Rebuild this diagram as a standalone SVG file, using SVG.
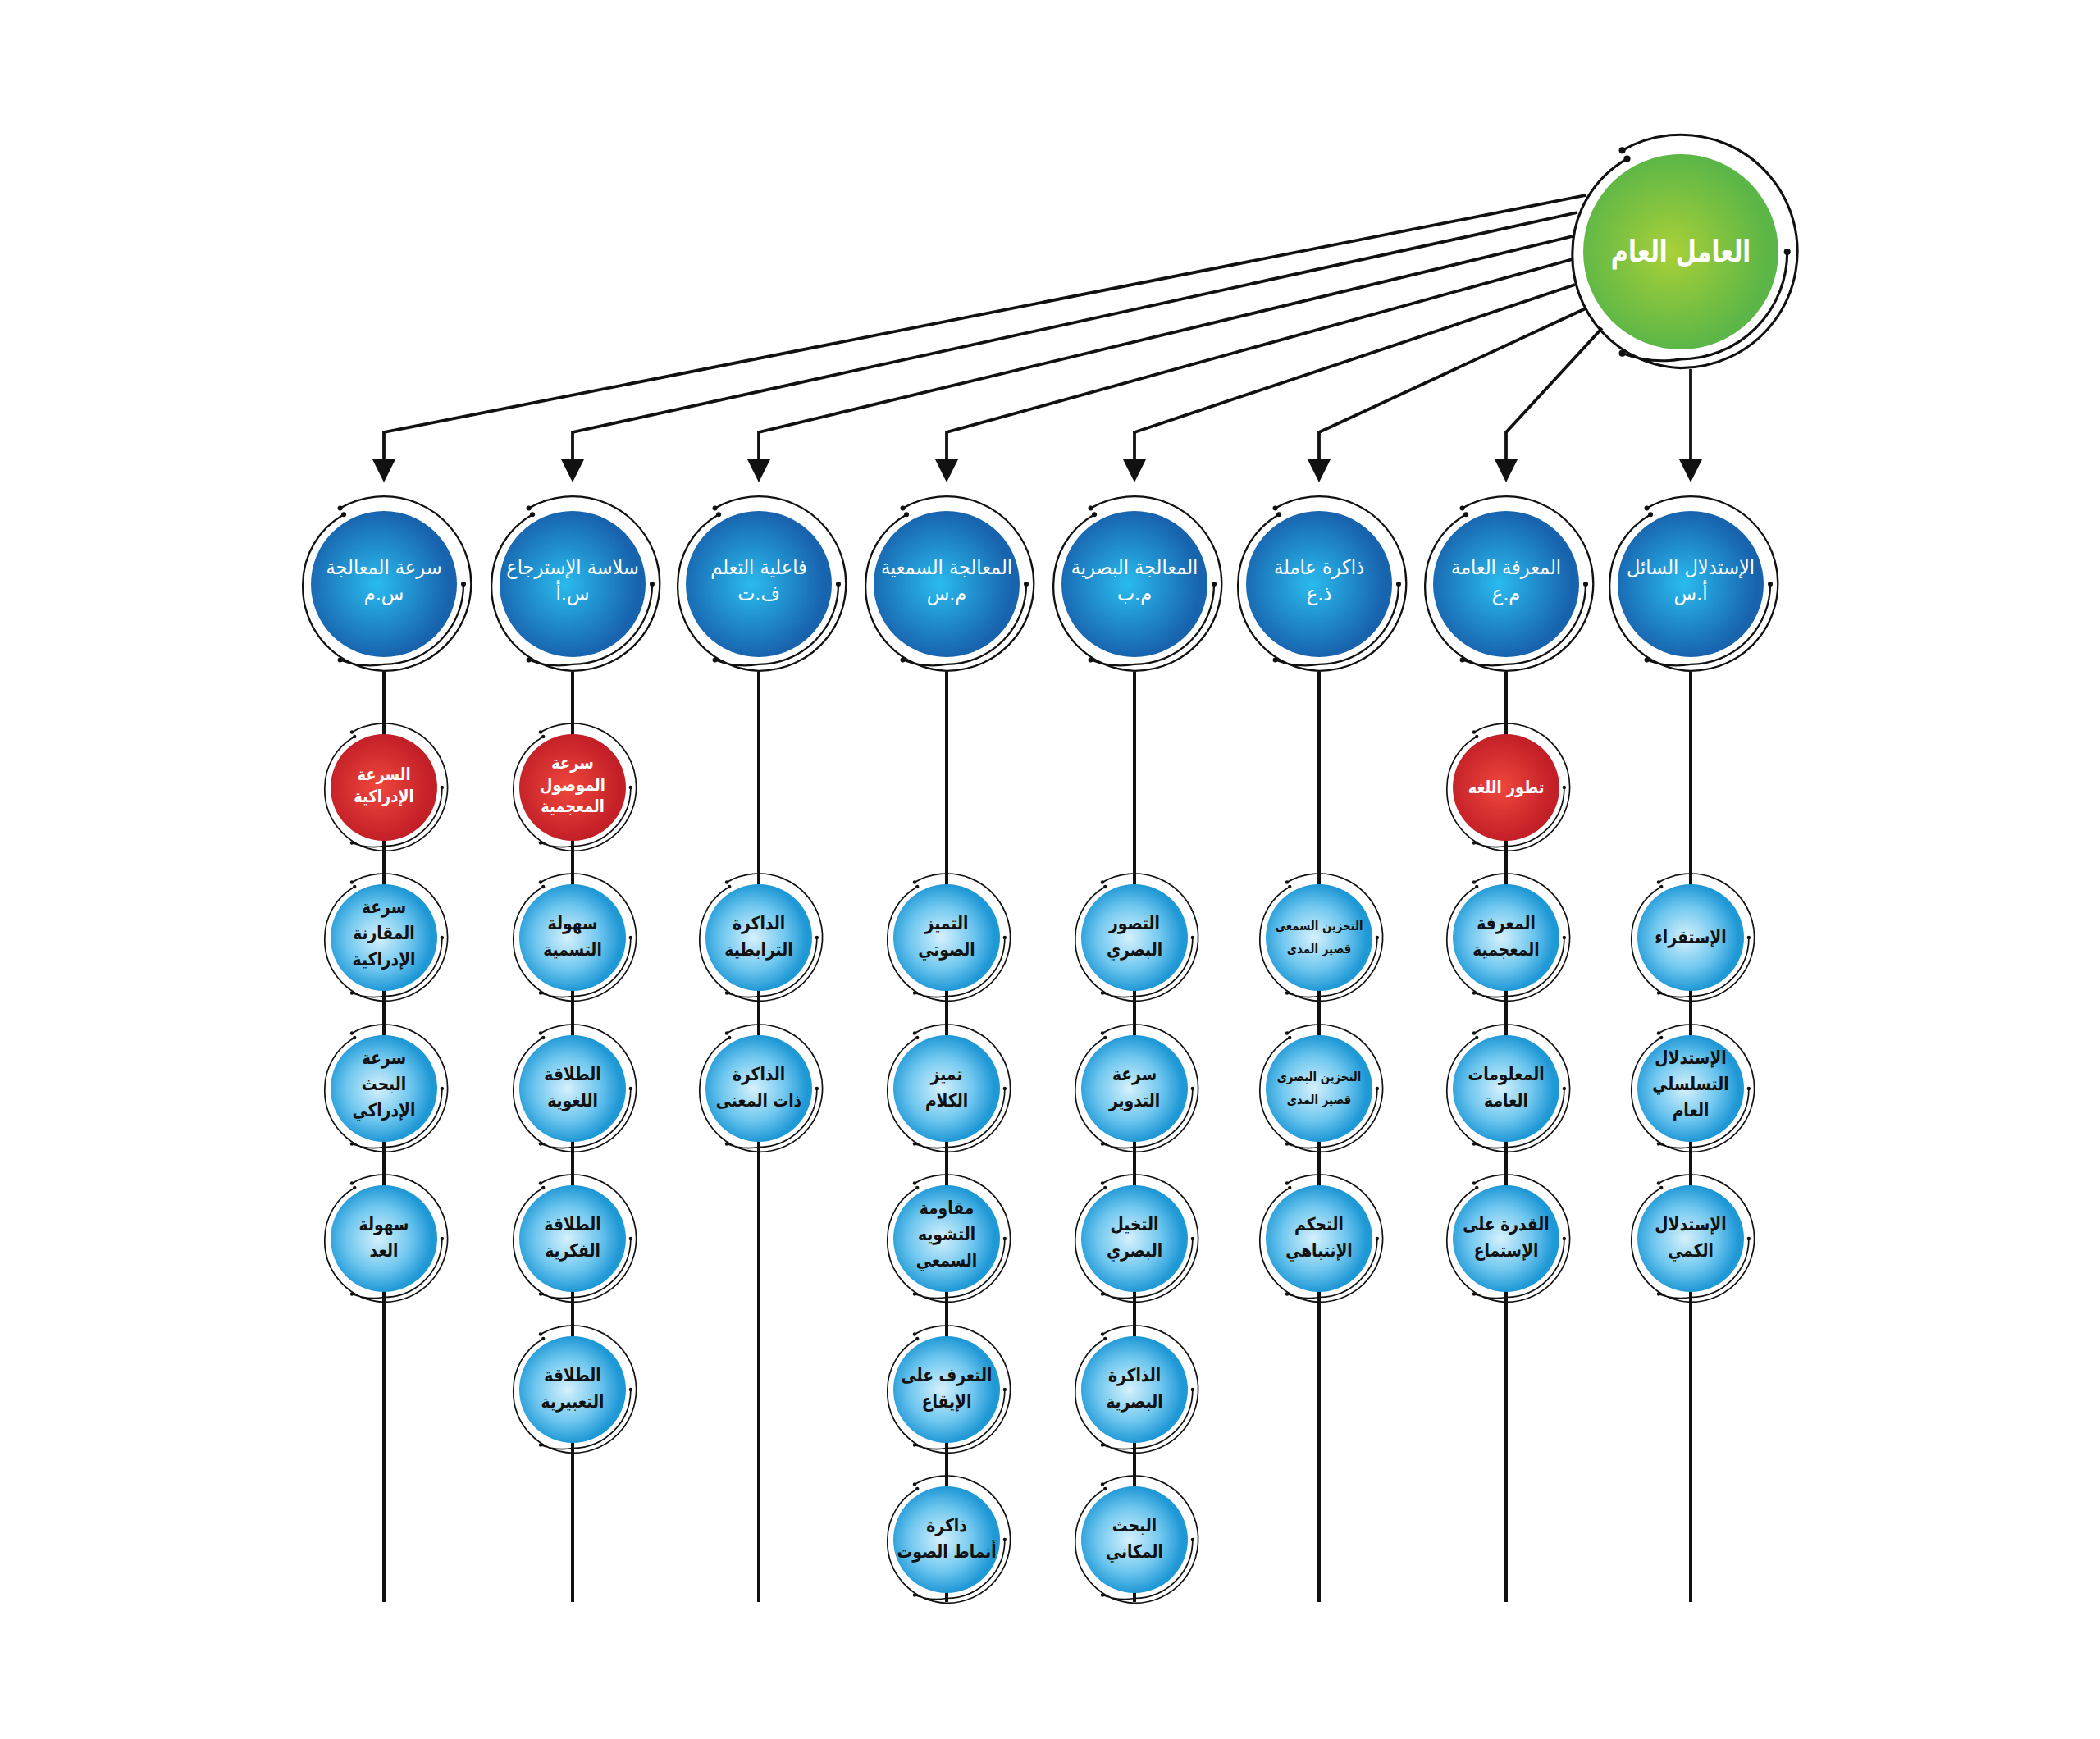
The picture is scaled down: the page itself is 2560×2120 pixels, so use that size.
<svg xmlns="http://www.w3.org/2000/svg" width="2560" height="2120" viewBox="0 0 2560 2120">
<style>
.tg{font-family:"DejaVu Sans","Noto Sans",sans-serif;font-weight:bold;font-size:37px;fill:#fff;text-anchor:middle;transform:scale(0.78,1)}
.t2{font-family:"DejaVu Sans","Noto Sans",sans-serif;font-size:25px;fill:#fff;text-anchor:middle;transform:scale(0.9,1)}
.tr{font-family:"DejaVu Sans","Noto Sans",sans-serif;font-weight:bold;font-size:21px;fill:#fff;text-anchor:middle;transform:scale(0.85,1)}
.tl{font-family:"DejaVu Sans","Noto Sans",sans-serif;font-weight:bold;font-size:22px;fill:#111;text-anchor:middle;transform:scale(0.85,1)}
.ts{font-family:"DejaVu Sans","Noto Sans",sans-serif;font-weight:bold;font-size:16px;fill:#111;text-anchor:middle;transform:scale(0.83,1)}
</style>
<defs>
<radialGradient id="gGreen" cx="0.45" cy="0.5" r="0.5">
<stop offset="0" stop-color="#a9d038"/><stop offset="1" stop-color="#5bb647"/>
</radialGradient>
<radialGradient id="gBlue" cx="0.45" cy="0.5" r="0.5">
<stop offset="0" stop-color="#2abbee"/><stop offset="1" stop-color="#1863ae"/>
</radialGradient>
<radialGradient id="gRed" cx="0.45" cy="0.5" r="0.5">
<stop offset="0" stop-color="#f0473d"/><stop offset="1" stop-color="#c21f27"/>
</radialGradient>
<radialGradient id="gLeaf" cx="0.45" cy="0.5" r="0.5">
<stop offset="0" stop-color="#d6f1fc"/><stop offset="0.6" stop-color="#6fc7ef"/><stop offset="1" stop-color="#1f98d6"/>
</radialGradient>
<g id="ring">
<path d="M-60 -103.9 A119.5 119.5 0 1 1 0 119 A115 115 0 0 1 -111 0 A110.5 110.5 0 0 1 -55 -95.3 M109 0 A109.5 109.5 0 0 1 0 110 A115 115 0 0 1 -60 103.9" fill="none" stroke="#111" stroke-width="2.6"/>
<circle cx="-60" cy="-103.9" r="3.4" fill="#111"/>
<circle cx="-55" cy="-95.3" r="3.4" fill="#111"/>
<circle cx="109" cy="0" r="3.4" fill="#111"/>
<circle cx="-60" cy="103.9" r="3.4" fill="#111"/>
</g>
<marker id="arr" markerUnits="userSpaceOnUse" markerWidth="28" markerHeight="28" viewBox="0 0 28 28" refX="0" refY="14" orient="auto">
<path d="M0 0 L28 14 L0 28 z" fill="#111"/>
</marker>
</defs>
<rect width="2560" height="2120" fill="#fff"/>

<g id="connectors" fill="none" stroke="#111">
<g stroke-width="3.8">
<path d="M1933 238 L468 527 L468 560" marker-end="url(#arr)"/>
<path d="M1923 259 L698 527 L698 560" marker-end="url(#arr)"/>
<path d="M1917 288 L925 527 L925 560" marker-end="url(#arr)"/>
<path d="M1917 316 L1154 527 L1154 560" marker-end="url(#arr)"/>
<path d="M1920 347 L1383 527 L1383 560" marker-end="url(#arr)"/>
<path d="M1933 376 L1608 527 L1608 560" marker-end="url(#arr)"/>
<path d="M1953 400 L1836 527 L1836 560" marker-end="url(#arr)"/>
<path d="M2061 450 L2061 560" marker-end="url(#arr)"/>
</g>
<g stroke-width="4">
<line x1="468" y1="819" x2="468" y2="1953"/>
<line x1="698" y1="819" x2="698" y2="1953"/>
<line x1="925" y1="819" x2="925" y2="1953"/>
<line x1="1154" y1="819" x2="1154" y2="1953"/>
<line x1="1383" y1="819" x2="1383" y2="1953"/>
<line x1="1608" y1="819" x2="1608" y2="1953"/>
<line x1="1836" y1="819" x2="1836" y2="1953"/>
<line x1="2061" y1="819" x2="2061" y2="1953"/>
</g>
</g>

<g id="node-general" transform="translate(2049,307)">
<circle r="119" fill="url(#gGreen)"/>
<use href="#ring" transform="scale(1.19)"/>
<text class="tg" y="12">العامل العام</text>
</g>

<g id="node-gs" transform="translate(468,712)"><circle r="89" fill="url(#gBlue)"/><use href="#ring" transform="scale(0.89)"/><text class="t2" y="-12">سرعة المعالجة</text><text class="t2" y="20">س.م</text></g>
<g id="node-gr" transform="translate(698,712)"><circle r="89" fill="url(#gBlue)"/><use href="#ring" transform="scale(0.89)"/><text class="t2" y="-12">سلاسة الإسترجاع</text><text class="t2" y="20">س.أ</text></g>
<g id="node-gl" transform="translate(925,712)"><circle r="89" fill="url(#gBlue)"/><use href="#ring" transform="scale(0.89)"/><text class="t2" y="-12">فاعلية التعلم</text><text class="t2" y="20">ف.ت</text></g>
<g id="node-ga" transform="translate(1154,712)"><circle r="89" fill="url(#gBlue)"/><use href="#ring" transform="scale(0.89)"/><text class="t2" y="-12">المعالجة السمعية</text><text class="t2" y="20">م.س</text></g>
<g id="node-gv" transform="translate(1383,712)"><circle r="89" fill="url(#gBlue)"/><use href="#ring" transform="scale(0.89)"/><text class="t2" y="-12">المعالجة البصرية</text><text class="t2" y="20">م.ب</text></g>
<g id="node-gwm" transform="translate(1608,712)"><circle r="89" fill="url(#gBlue)"/><use href="#ring" transform="scale(0.89)"/><text class="t2" y="-12">ذاكرة عاملة</text><text class="t2" y="20">ذ.ع</text></g>
<g id="node-gc" transform="translate(1836,712)"><circle r="89" fill="url(#gBlue)"/><use href="#ring" transform="scale(0.89)"/><text class="t2" y="-12">المعرفة العامة</text><text class="t2" y="20">م.ع</text></g>
<g id="node-gf" transform="translate(2061,712)"><circle r="89" fill="url(#gBlue)"/><use href="#ring" transform="scale(0.89)"/><text class="t2" y="-12">الإستدلال السائل</text><text class="t2" y="20">أ.س</text></g>

<g id="node-c1-red" transform="translate(468,960)"><circle r="65" fill="url(#gRed)"/><use href="#ring" transform="scale(0.65)"/><text class="tr" y="-9">السرعة</text><text class="tr" y="18">الإدراكية</text></g>
<g id="node-c2-red" transform="translate(698,960)"><circle r="65" fill="url(#gRed)"/><use href="#ring" transform="scale(0.65)"/><text class="tr" y="-23">سرعة</text><text class="tr" y="4">الموصول</text><text class="tr" y="30">المعجمية</text></g>
<g id="node-c7-red" transform="translate(1836,960)"><circle r="65" fill="url(#gRed)"/><use href="#ring" transform="scale(0.65)"/><text class="tr" y="7">تطور اللغه</text></g>

<g id="node-c1-1" transform="translate(468,1143)"><circle r="65" fill="url(#gLeaf)"/><use href="#ring" transform="scale(0.65)"/><text class="tl" y="-30">سرعة</text><text class="tl" y="2">المقارنة</text><text class="tl" y="34">الإدراكية</text></g>
<g id="node-c1-2" transform="translate(468,1327)"><circle r="65" fill="url(#gLeaf)"/><use href="#ring" transform="scale(0.65)"/><text class="tl" y="-30">سرعة</text><text class="tl" y="2">البحث</text><text class="tl" y="34">الإدراكي</text></g>
<g id="node-c1-3" transform="translate(468,1510)"><circle r="65" fill="url(#gLeaf)"/><use href="#ring" transform="scale(0.65)"/><text class="tl" y="-10">سهولة</text><text class="tl" y="22">العد</text></g>

<g id="node-c2-1" transform="translate(698,1143)"><circle r="65" fill="url(#gLeaf)"/><use href="#ring" transform="scale(0.65)"/><text class="tl" y="-10">سهولة</text><text class="tl" y="22">التسمية</text></g>
<g id="node-c2-2" transform="translate(698,1327)"><circle r="65" fill="url(#gLeaf)"/><use href="#ring" transform="scale(0.65)"/><text class="tl" y="-10">الطلاقة</text><text class="tl" y="22">اللغوية</text></g>
<g id="node-c2-3" transform="translate(698,1510)"><circle r="65" fill="url(#gLeaf)"/><use href="#ring" transform="scale(0.65)"/><text class="tl" y="-10">الطلاقة</text><text class="tl" y="22">الفكرية</text></g>
<g id="node-c2-4" transform="translate(698,1694)"><circle r="65" fill="url(#gLeaf)"/><use href="#ring" transform="scale(0.65)"/><text class="tl" y="-10">الطلاقة</text><text class="tl" y="22">التعبيرية</text></g>

<g id="node-c3-1" transform="translate(925,1143)"><circle r="65" fill="url(#gLeaf)"/><use href="#ring" transform="scale(0.65)"/><text class="tl" y="-10">الذاكرة</text><text class="tl" y="22">الترابطية</text></g>
<g id="node-c3-2" transform="translate(925,1327)"><circle r="65" fill="url(#gLeaf)"/><use href="#ring" transform="scale(0.65)"/><text class="tl" y="-10">الذاكرة</text><text class="tl" y="22">ذات المعنى</text></g>

<g id="node-c4-1" transform="translate(1154,1143)"><circle r="65" fill="url(#gLeaf)"/><use href="#ring" transform="scale(0.65)"/><text class="tl" y="-10">التميز</text><text class="tl" y="22">الصوتي</text></g>
<g id="node-c4-2" transform="translate(1154,1327)"><circle r="65" fill="url(#gLeaf)"/><use href="#ring" transform="scale(0.65)"/><text class="tl" y="-10">تميز</text><text class="tl" y="22">الكلام</text></g>
<g id="node-c4-3" transform="translate(1154,1510)"><circle r="65" fill="url(#gLeaf)"/><use href="#ring" transform="scale(0.65)"/><text class="tl" y="-30">مقاومة</text><text class="tl" y="2">التشويه</text><text class="tl" y="34">السمعي</text></g>
<g id="node-c4-4" transform="translate(1154,1694)"><circle r="65" fill="url(#gLeaf)"/><use href="#ring" transform="scale(0.65)"/><text class="tl" y="-10">التعرف على</text><text class="tl" y="22">الإيقاع</text></g>
<g id="node-c4-5" transform="translate(1154,1877)"><circle r="65" fill="url(#gLeaf)"/><use href="#ring" transform="scale(0.65)"/><text class="tl" y="-10">ذاكرة</text><text class="tl" y="22">أنماط الصوت</text></g>

<g id="node-c5-1" transform="translate(1383,1143)"><circle r="65" fill="url(#gLeaf)"/><use href="#ring" transform="scale(0.65)"/><text class="tl" y="-10">التصور</text><text class="tl" y="22">البصري</text></g>
<g id="node-c5-2" transform="translate(1383,1327)"><circle r="65" fill="url(#gLeaf)"/><use href="#ring" transform="scale(0.65)"/><text class="tl" y="-10">سرعة</text><text class="tl" y="22">التدوير</text></g>
<g id="node-c5-3" transform="translate(1383,1510)"><circle r="65" fill="url(#gLeaf)"/><use href="#ring" transform="scale(0.65)"/><text class="tl" y="-10">التخيل</text><text class="tl" y="22">البصري</text></g>
<g id="node-c5-4" transform="translate(1383,1694)"><circle r="65" fill="url(#gLeaf)"/><use href="#ring" transform="scale(0.65)"/><text class="tl" y="-10">الذاكرة</text><text class="tl" y="22">البصرية</text></g>
<g id="node-c5-5" transform="translate(1383,1877)"><circle r="65" fill="url(#gLeaf)"/><use href="#ring" transform="scale(0.65)"/><text class="tl" y="-10">البحث</text><text class="tl" y="22">المكاني</text></g>

<g id="node-c6-1" transform="translate(1608,1143)"><circle r="65" fill="url(#gLeaf)"/><use href="#ring" transform="scale(0.65)"/><text class="ts" y="-9">التخزين السمعي</text><text class="ts" y="19">قصير المدى</text></g>
<g id="node-c6-2" transform="translate(1608,1327)"><circle r="65" fill="url(#gLeaf)"/><use href="#ring" transform="scale(0.65)"/><text class="ts" y="-9">التخزين البصري</text><text class="ts" y="19">قصير المدى</text></g>
<g id="node-c6-3" transform="translate(1608,1510)"><circle r="65" fill="url(#gLeaf)"/><use href="#ring" transform="scale(0.65)"/><text class="tl" y="-10">التحكم</text><text class="tl" y="22">الإنتباهي</text></g>

<g id="node-c7-1" transform="translate(1836,1143)"><circle r="65" fill="url(#gLeaf)"/><use href="#ring" transform="scale(0.65)"/><text class="tl" y="-10">المعرفة</text><text class="tl" y="22">المعجمية</text></g>
<g id="node-c7-2" transform="translate(1836,1327)"><circle r="65" fill="url(#gLeaf)"/><use href="#ring" transform="scale(0.65)"/><text class="tl" y="-10">المعلومات</text><text class="tl" y="22">العامة</text></g>
<g id="node-c7-3" transform="translate(1836,1510)"><circle r="65" fill="url(#gLeaf)"/><use href="#ring" transform="scale(0.65)"/><text class="tl" y="-10">القدرة على</text><text class="tl" y="22">الإستماع</text></g>

<g id="node-c8-1" transform="translate(2061,1143)"><circle r="65" fill="url(#gLeaf)"/><use href="#ring" transform="scale(0.65)"/><text class="tl" y="7">الإستقراء</text></g>
<g id="node-c8-2" transform="translate(2061,1327)"><circle r="65" fill="url(#gLeaf)"/><use href="#ring" transform="scale(0.65)"/><text class="tl" y="-30">الإستدلال</text><text class="tl" y="2">التسلسلي</text><text class="tl" y="34">العام</text></g>
<g id="node-c8-3" transform="translate(2061,1510)"><circle r="65" fill="url(#gLeaf)"/><use href="#ring" transform="scale(0.65)"/><text class="tl" y="-10">الإستدلال</text><text class="tl" y="22">الكمي</text></g>
</svg>
